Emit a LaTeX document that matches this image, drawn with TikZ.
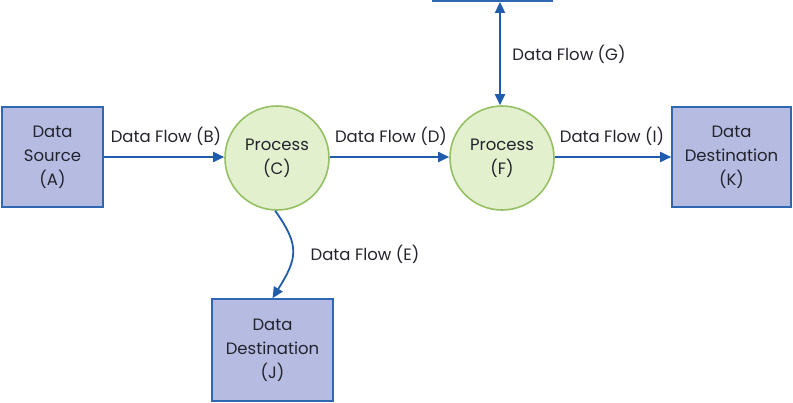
\documentclass[tikz,border=0pt]{standalone}
\usepackage{fontspec}
\setmainfont{Poppins}
\usetikzlibrary{arrows.meta}
\definecolor{boxfill}{RGB}{182,187,226}
\definecolor{boxdraw}{RGB}{46,104,178}
\definecolor{circfill}{RGB}{226,240,206}
\definecolor{circdraw}{RGB}{150,192,100}
\definecolor{flowc}{RGB}{32,92,172}
\definecolor{txt}{RGB}{35,35,45}
\tikzset{
  entity/.style={draw=boxdraw, fill=boxfill, line width=1.6pt, align=center, inner sep=0pt, text=txt, font=\fontsize{16.5}{24}\selectfont},
  proc/.style={circle, draw=circdraw, fill=circfill, line width=1.6pt, minimum size=104pt, align=center, inner sep=0pt, text=txt, font=\fontsize{16.5}{24}\selectfont},
  flow/.style={draw=flowc, line width=1.8pt, -{Triangle[length=11pt,width=10pt]}},
  flowlbl/.style={text=txt, font=\fontsize{16.5}{18}\selectfont, inner sep=0pt}
}
\begin{document}
\begin{tikzpicture}[x=1pt,y=1pt]
\useasboundingbox (0,0) rectangle (793,-402);
\begin{scope}
\clip (0,0) rectangle (793,-402);
\node[entity, minimum width=101pt, minimum height=100pt] (A) at (52.5,-157) {Data\\Source\\(A)};
\node[proc] (C) at (277,-158) {Process\\(C)};
\node[proc] (F) at (502,-158) {Process\\(F)};
\node[entity, minimum width=119pt, minimum height=100pt] (K) at (731.5,-157) {Data\\Destination\\(K)};
\node[entity, minimum width=121pt, minimum height=102pt] (J) at (272.5,-350) {Data\\Destination\\(J)};
\node[draw=boxdraw, line width=1.8pt, minimum width=119pt, minimum height=100pt, inner sep=0pt] (S) at (492.5,49) {};

\draw[flow] (A.east |- 0,-157) -- (C.west |- 0,-157);
\draw[flow] (C.east |- 0,-157) -- (F.west |- 0,-157);
\draw[flow] (F.east |- 0,-157) -- (K.west |- 0,-157);
\draw[flow, {Triangle[length=11pt,width=10pt]}-{Triangle[length=11pt,width=10pt]}] (F.north -| 500,0) -- (S.south -| 500,0);
\draw[flow] (C.-92) .. controls +(25,-35) and +(25,40) .. (J.north);

\node[flowlbl] (lB) at (166,-136) {Data Flow (B)};
\node[flowlbl] (lD) at (391,-136) {Data Flow (D)};
\node[flowlbl] (lI) at (612,-136) {Data Flow (I)};
\node[flowlbl] (lG) at (569,-54) {Data Flow (G)};
\node[flowlbl] (lE) at (365,-254) {Data Flow (E)};
\end{scope}
\end{tikzpicture}
\end{document}
